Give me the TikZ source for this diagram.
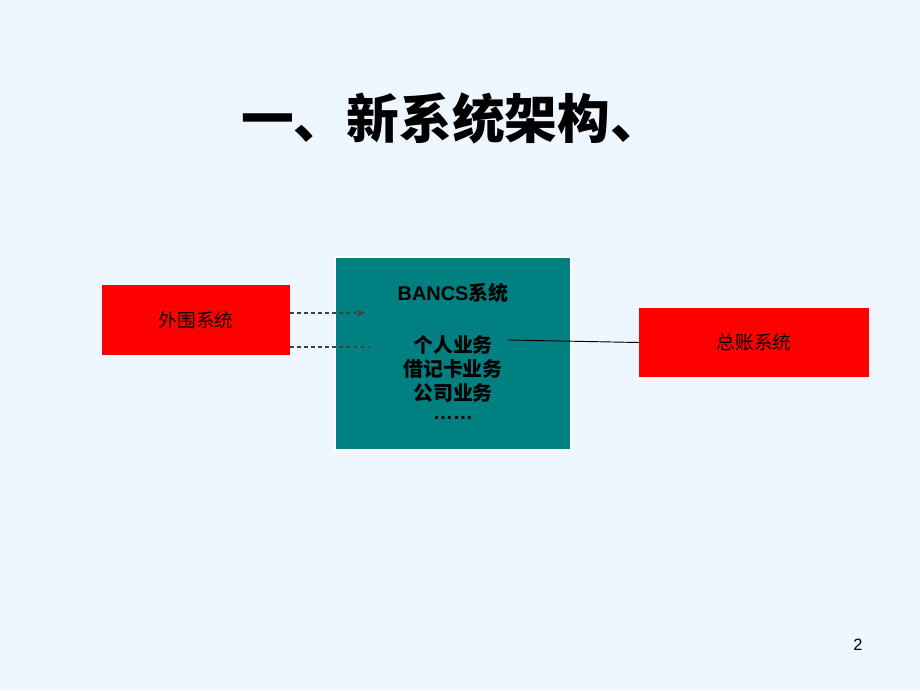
\documentclass[tikz,border=0pt]{standalone}
\usepackage{fontspec}
\setmainfont{Liberation Sans}
\newfontfamily\cjk{Noto Sans CJK SC}
\usetikzlibrary{positioning,arrows.meta}
\definecolor{bgblue}{HTML}{EEF6FF}
\definecolor{bancsteal}{HTML}{008080}
\begin{document}
\begin{tikzpicture}[
        x=0.03cm, y=-0.03cm,
        redbox/.style={fill=red, inner sep=0pt, font=\fontsize{16pt}{18pt}\selectfont\cjk},
        dashline/.style={dashed, line width=0.9pt, black!75},
        arrow/.style={-{Stealth[length=7pt,width=6pt]}}
    ]
        % Background
        \fill[bgblue] (0,0) rectangle (920,690);
        \useasboundingbox (0,0) rectangle (920,690);

        % Title
        \node[font=\fontsize{45pt}{50pt}\selectfont\cjk\bfseries] (title) at (452,118) {一、新系统架构、};

        % Boxes
        \node[redbox, minimum width=188*0.03cm, minimum height=70*0.03cm] (outer) at (196,320) {外围系统};
        \node[fill=bancsteal, draw=white, line width=1.5pt, minimum width=236*0.03cm, minimum height=193*0.03cm] (bancs) at (453,353.5) {};
        \node[redbox, minimum width=230*0.03cm, minimum height=69*0.03cm] (ledger) at (754,342.5) {总账系统};

        % Texts inside the BANCS box
        \node[font=\fontsize{17pt}{18pt}\selectfont\bfseries] (bancstitle) at (453,293) {BANCS{\cjk 系统}};
        \node[font=\fontsize{17pt}{20.5pt}\selectfont\cjk\bfseries, align=center] (business) at (453,369) {个人业务\\借记卡业务\\公司业务};
        \node[font=\fontsize{17pt}{18pt}\selectfont\bfseries] (dots) at (453,418) {……};

        % Connectors
        \coordinate (inA) at (365,313);
        \coordinate (inB) at (370,347);
        \coordinate (tail) at (508,340);
        \draw[dashline, arrow] (outer.east |- inA) -- (inA);
        \draw[dashline] (outer.east |- inB) -- (inB);
        \draw[line width=0.8pt] (tail) -- (ledger.west);

        % Page number
        \node[font=\fontsize{14pt}{16pt}\selectfont] (page) at (858,645) {2};
    \end{tikzpicture}
\end{document}
